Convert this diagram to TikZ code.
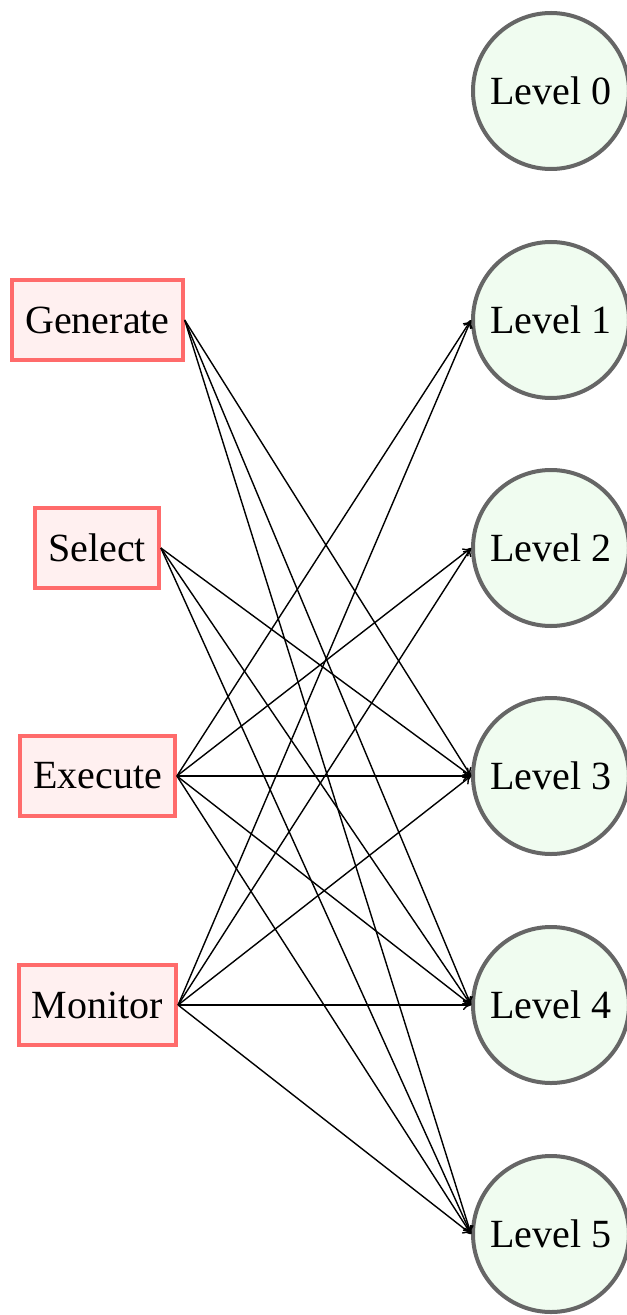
\documentclass[tikz,border=0pt]{standalone}
\usepackage{fontspec}
\setmainfont{Liberation Serif}
\usetikzlibrary{arrows.meta}
\definecolor{boxborder}{HTML}{FF6B6B}
\definecolor{boxfill}{HTML}{FFF0F0}
\definecolor{circborder}{HTML}{666666}
\definecolor{circfill}{HTML}{F0FCF0}
\begin{document}
\begin{tikzpicture}[x=1bp,y=-1bp,
  task/.style={draw=boxborder, fill=boxfill, line width=4bp, rectangle,
    minimum height=80bp, inner xsep=13bp, font=\fontsize{40bp}{48bp}\selectfont},
  level/.style={draw=circborder, fill=circfill, line width=4bp, circle,
    minimum size=156bp, inner sep=0pt, font=\fontsize{40bp}{48bp}\selectfont},
  link/.style={-{To[length=8bp,width=10bp]}, line width=1.4bp, black}]
\useasboundingbox (0,0) rectangle (627,1315);
\node[level] (l0) at (551,91) {Level 0};
\node[level] (l1) at (551,320) {Level 1};
\node[level] (l2) at (551,548) {Level 2};
\node[level] (l3) at (551,776) {Level 3};
\node[level] (l4) at (551,1005) {Level 4};
\node[level] (l5) at (551,1234) {Level 5};
\node[task] (gen) at (97.5,320) {Generate};
\node[task] (sel) at (97,548) {Select};
\node[task] (exe) at (97.5,776) {Execute};
\node[task] (mon) at (97.5,1005) {Monitor};
\foreach \s/\t in {gen/l3,gen/l4,gen/l5,sel/l3,sel/l4,sel/l5,
  exe/l1,exe/l2,exe/l3,exe/l4,exe/l5,mon/l1,mon/l2,mon/l3,mon/l4,mon/l5}
  \draw[link] (\s.east) -- (\t.west);
\end{tikzpicture}
\end{document}
